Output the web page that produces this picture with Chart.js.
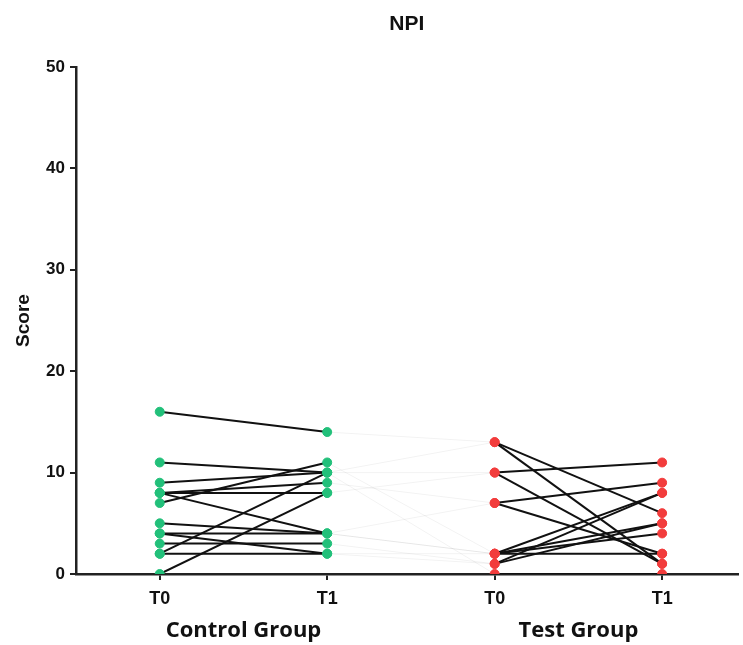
<!DOCTYPE html>
<html>
<head>
<meta charset="utf-8">
<title>NPI</title>
<script src="https://cdn.jsdelivr.net/npm/chart.js@4.4.1/dist/chart.umd.min.js"></script>
<style>
  html, body { margin: 0; padding: 0; background: #fff; overflow: hidden; }
  #wrap { width: 743px; height: 645px; }
</style>
</head>
<body>
<div id="wrap"><canvas id="npiChart"></canvas></div>
<script>
const chartTitle = 'NPI';
const xLabels = ['T0', 'T1', 'T0', 'T1'];
const groupNames = ['Control Group', 'Test Group'];
const yTicks = [0, 10, 20, 30, 40, 50];

// one entry per subject, T0 and T1 paired by index
const controlT0 = [16, 11, 9, 8, 8, 8, 7, 5, 4, 4, 3, 2, 2, 0];
const controlT1 = [14, 10, 10, 8, 9, 4, 11, 4, 4, 2, 3, 2, 10, 8];
const testT0 = [13, 13, 10, 10, 7, 7, 2, 2, 2, 2, 1, 1, 0];
const testT1 = [6, 1, 11, 1, 9, 2, 8, 2, 5, 4, 8, 5, 0];

const greenDot = '#22c07a';
const redDot = '#f23c3c';

function pairLines(before, after, x0) {
  return before.map((v, i) => ({
    type: 'scatter',
    showLine: true,
    data: [{ x: x0, y: v }, { x: x0 + 1, y: after[i] }],
    borderColor: '#111',
    borderWidth: 2,
    pointRadius: 0,
    order: 2
  }));
}

function dots(values, x, color) {
  return {
    type: 'scatter',
    data: values.map(v => ({ x: x, y: v })),
    backgroundColor: color,
    borderColor: color,
    pointRadius: 4.5,
    pointHoverRadius: 4.5,
    order: 0
  };
}

// faint joins between control T1 and test T0 rows
const bridgeLines = controlT1.slice(0, testT0.length).map((v, i) => ({
  type: 'scatter',
  showLine: true,
  data: [{ x: 1, y: v }, { x: 2, y: testT0[i] }],
  borderColor: 'rgba(0,0,0,0.05)',
  borderWidth: 1,
  pointRadius: 0,
  order: 3
}));

const datasets = [
  ...bridgeLines,
  ...pairLines(controlT0, controlT1, 0),
  ...pairLines(testT0, testT1, 2),
  dots(controlT0, 0, greenDot),
  dots(controlT1, 1, greenDot),
  dots(testT0, 2, redDot),
  dots(testT1, 3, redDot)
];

// title over the plot area and the two group names under the T0/T1 pairs
const extraText = {
  id: 'extraText',
  afterDraw(chart) {
    const ctx = chart.ctx;
    const xs = chart.scales.x;
    const area = chart.chartArea;
    ctx.save();
    ctx.fillStyle = '#111';
    ctx.textAlign = 'center';
    ctx.textBaseline = 'middle';
    ctx.font = 'bold 21px "Liberation Sans"';
    ctx.fillText(chartTitle, (area.left + area.right) / 2, 24);
    ctx.font = 'bold 22px "Open Sans"';
    groupNames.forEach((name, i) => {
      ctx.fillText(name, xs.getPixelForValue(i * 2 + 0.5), 631);
    });
    ctx.restore();
  }
};

new Chart(document.getElementById('npiChart'), {
  type: 'scatter',
  data: { datasets: datasets },
  plugins: [extraText],
  options: {
    responsive: true,
    maintainAspectRatio: false,
    animation: false,
    layout: { padding: { left: 0, right: 0, top: 67, bottom: 0 } },
    plugins: {
      legend: { display: false },
      tooltip: { enabled: false },
      title: { display: false }
    },
    scales: {
      x: {
        type: 'linear',
        min: -0.5,
        max: 3.45,
        afterBuildTicks: scale => {
          scale.ticks = xLabels.map((_, i) => ({ value: i }));
        },
        afterFit: scale => { scale.height = 71; },
        ticks: {
          callback: v => xLabels[v],
          color: '#111',
          font: { family: 'Liberation Sans', size: 18, weight: 'bold' },
          padding: 8,
          maxRotation: 0
        },
        grid: {
          display: true,
          drawOnChartArea: false,
          drawTicks: true,
          tickLength: 6,
          color: '#222',
          lineWidth: 2
        },
        border: { display: true, color: '#222', width: 2.5 }
      },
      y: {
        min: 0,
        max: 50,
        afterBuildTicks: scale => {
          scale.ticks = yTicks.map(v => ({ value: v }));
        },
        afterFit: scale => { scale.width = 76; },
        ticks: {
          color: '#111',
          font: { family: 'Liberation Sans', size: 17, weight: 'bold' },
          padding: 5
        },
        grid: {
          display: true,
          drawOnChartArea: false,
          drawTicks: true,
          tickLength: 6,
          color: '#222',
          lineWidth: 2
        },
        border: { display: true, color: '#222', width: 2.5 },
        title: {
          display: true,
          text: 'Score',
          color: '#111',
          font: { family: 'Liberation Sans', size: 19, weight: 'bold' },
          padding: { top: 12, bottom: 0 }
        }
      }
    }
  }
});
</script>
</body>
</html>
